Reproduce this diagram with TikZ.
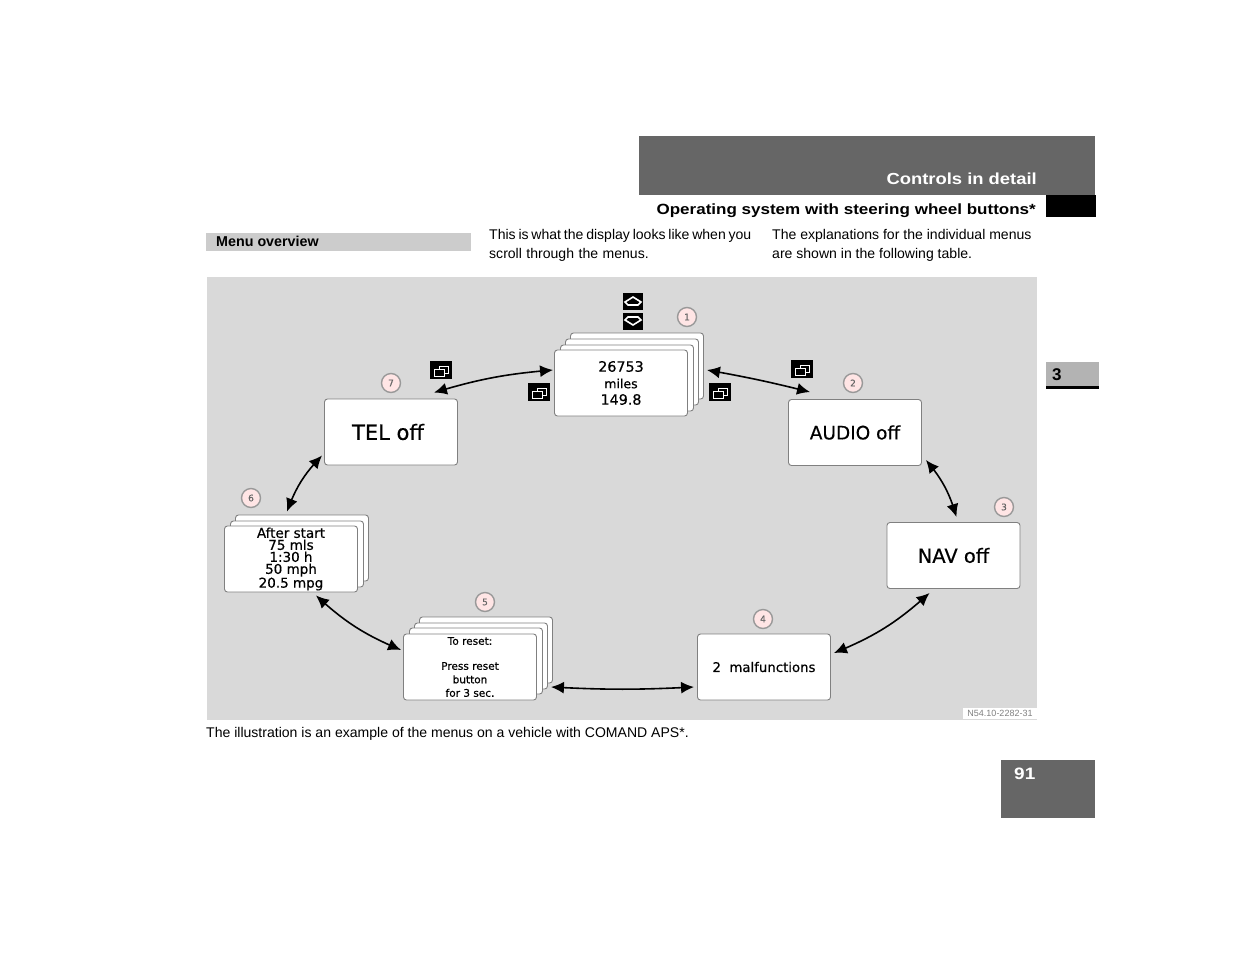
\documentclass[tikz,border=0pt]{standalone}
\usepackage{fontspec}
\setmainfont{Liberation Sans}
\newfontfamily\lcdfont[FakeBold=0.5]{DejaVu Sans}
\newfontfamily\widefont[FakeStretch=1.15]{Liberation Sans Bold}
\usetikzlibrary{arrows.meta}
\usetikzlibrary{bending}
\definecolor{darkband}{HTML}{666666}
\definecolor{lightband}{HTML}{CCCCCC}
\definecolor{tabgray}{HTML}{B3B3B3}
\definecolor{panelgray}{HTML}{D9D9D9}
\definecolor{cardline}{HTML}{808080}
\tikzset{
   band/.style={fill=#1, draw=none},
   card/.style={draw=cardline, fill=white, rounded corners=3pt, line width=0.9pt,
      minimum width=133pt, minimum height=66pt, inner sep=0pt, align=center, text=black},
   badge/.style={circle, draw=gray!80, fill=white!90!red, line width=1.4pt, minimum size=19pt,
      inner sep=0pt, font=\lcdfont\fontsize{9}{9}\selectfont, text=darkband},
   icon/.style={fill=black, draw=none, inner sep=0pt, minimum width=#1},
   menuarrow/.style={line width=1.6pt, {Latex[length=13pt,width=12pt,flex]}-{Latex[length=13pt,width=12pt,flex]}},
   bodytext/.style={inner sep=0pt, align=left, anchor=base west,
      font=\fontsize{14.05}{19}\selectfont},
   pageicon/.pic={
      \draw[white, line width=0.8pt] (-2,-4) rectangle (7,3);
      \draw[white, line width=0.8pt, fill=black] (-7,-1) rectangle (3,6);},
   arrowup/.pic={
      \draw[white, line width=1.6pt] (-8,1) -- (0,-4) -- (8,1) -- (5,4) -- (-5,4) -- cycle;},
   arrowdown/.pic={
      \draw[white, line width=1.6pt] (-8,-1) -- (0,4) -- (8,-1) -- (5,-4) -- (-5,-4) -- cycle;},
}
\newcommand{\lcd}[1]{\lcdfont\fontsize{#1}{#1}\selectfont}
\begin{document}
\begin{tikzpicture}[x=1pt,y=-1pt]
   \useasboundingbox (0,0) rectangle (1235,954);
   % page furniture
   \fill[band=darkband] (639,136) rectangle (1095,195);
   \fill[band=black] (1046,195) rectangle (1096,217);
   \fill[band=tabgray] (1046,362) rectangle (1099,386);
   \fill[band=black] (1046,386) rectangle (1099,389);
   \fill[band=darkband] (1001,760) rectangle (1095,818);
   \fill[band=lightband] (206,233) rectangle (471,251);
   \fill[band=panelgray] (207,277) rectangle (1037,720);
   \fill[band=white] (963,708) rectangle (1037,719);
   \node[anchor=base east, inner sep=0pt, text=white, font=\widefont\fontsize{16}{16}\selectfont] (chapter) at (1037,184) {Controls in detail};
   \node[anchor=base east, inner sep=0pt, font=\widefont\fontsize{14.8}{16}\selectfont] (section) at (1036,214) {Operating system with steering wheel buttons*};
   \node[anchor=base west, inner sep=0pt, font=\bfseries\fontsize{17}{17}\selectfont] (tabnum) at (1052,380) {3};
   \node[anchor=base west, inner sep=0pt, text=white, font=\widefont\fontsize{16.5}{17}\selectfont] (pagenum) at (1014,779) {91};
   \node[anchor=base west, inner sep=0pt, font=\bfseries\fontsize{14.3}{14}\selectfont] (overview) at (216,246) {Menu overview};
   \node[bodytext] (colone) at (489,258) {{\spaceskip=2.8pt This is what the display looks like when you}\\{\spaceskip=4.5pt scroll through the menus.}};
   \node[bodytext] (coltwo) at (772,258) {The explanations for the individual menus\\are shown in the following table.};
   \node[bodytext] (caption) at (206,737) {The illustration is an example of the menus on a vehicle with COMAND APS*.};
   \node[anchor=center, inner sep=0pt, text=gray, font=\fontsize{9}{9}\selectfont] (code) at (1000,713) {N54.10-2282-31};
   % stacked cards behind the menus
   \node[card] (odoD) at (637,366) {};
   \node[card] (odoC) at (632,372) {};
   \node[card] (odoB) at (627,378) {};
   \node[card] (tripC) at (302,548) {};
   \node[card] (tripB) at (297,554) {};
   \node[card] (resetD) at (486,650) {};
   \node[card] (resetC) at (481,656) {};
   \node[card] (resetB) at (476,661) {};
   % menus
   \node[card] (odo) at (621,383) {\lcd{14.3}26753\\[4.5pt]\lcd{12.5}miles\\[4.5pt]\lcd{14.3}149.8};
   \node[card] (audio) at (855,432.5) {\lcd{18.5}AUDIO off};
   \node[card] (nav) at (953.5,555.5) {\lcd{19.5}NAV off};
   \node[card] (malf) at (764,667) {\lcd{13.3}2~~malfunctions};
   \node[card] (reset) at (470,667) {\lcd{10.5}To reset:\\[13pt]\lcd{10.5}Press reset\\[1.5pt]\lcd{10.5}button\\[1.5pt]\lcd{10.5}for 3 sec.};
   \node[card] (trip) at (291,559) {\lcd{13.5}After start\\\lcd{13.5}75 mls\\\lcd{13.5}1:30 h\\\lcd{13.5}50 mph\\\lcd{13.5}20.5 mpg};
   \node[card] (tel) at (391,432) {\hspace*{-6pt}\lcd{21}TEL off};
   % number badges
   \node[badge] (one) at (687,317) {1};
   \node[badge] (two) at (853,383) {2};
   \node[badge] (three) at (1004,507) {3};
   \node[badge] (four) at (763,619) {4};
   \node[badge] (five) at (485,602) {5};
   \node[badge] (six) at (251,498) {6};
   \node[badge] (seven) at (391,383) {7};
   % button icons
   \node[icon=20pt, minimum height=17pt] (up) at (633,301) {};
   \node[icon=20pt, minimum height=17pt] (down) at (633,321) {};
   \node[icon=22pt, minimum height=18pt] (pageA) at (539,392) {};
   \node[icon=22pt, minimum height=18pt] (pageB) at (720,392) {};
   \node[icon=22pt, minimum height=18pt] (pageC) at (802,369) {};
   \node[icon=22pt, minimum height=18pt] (pageD) at (441,370) {};
   \pic at (up) {arrowup};
   \pic at (down) {arrowdown};
   \pic at (pageA) {pageicon};
   \pic at (pageB) {pageicon};
   \pic at (pageC) {pageicon};
   \pic at (pageD) {pageicon};
   % connectors
   \draw[menuarrow] ([xshift=-1pt,yshift=13pt]odo.west) to[bend right=6] ([xshift=-24pt,yshift=6pt]tel.north east);
   \draw[menuarrow] ([xshift=3pt,yshift=-4pt]odoD.east) to[bend left=2] ([xshift=22pt,yshift=7pt]audio.north west);
   \draw[menuarrow] ([xshift=4pt,yshift=6pt]audio.south east) to[bend left=12] ([xshift=3pt,yshift=5pt]nav.north);
   \draw[menuarrow] ([xshift=43pt,yshift=-4pt]nav.south west) to[bend left=10] ([xshift=3pt,yshift=14pt]malf.east);
   \draw[menuarrow] ([xshift=-3pt,yshift=-20pt]malf.west) to[bend left=3] ([xshift=14pt,yshift=-20pt]reset.east);
   \draw[menuarrow] ([xshift=-2pt,yshift=17pt]reset.west) to[bend left=10] ([xshift=-42pt,yshift=-3pt]trip.south east);
   \draw[menuarrow] ([xshift=-4pt,yshift=14pt]trip.north) to[bend left=12] ([xshift=-2pt,yshift=10pt]tel.south west);
\end{tikzpicture}
\end{document}
